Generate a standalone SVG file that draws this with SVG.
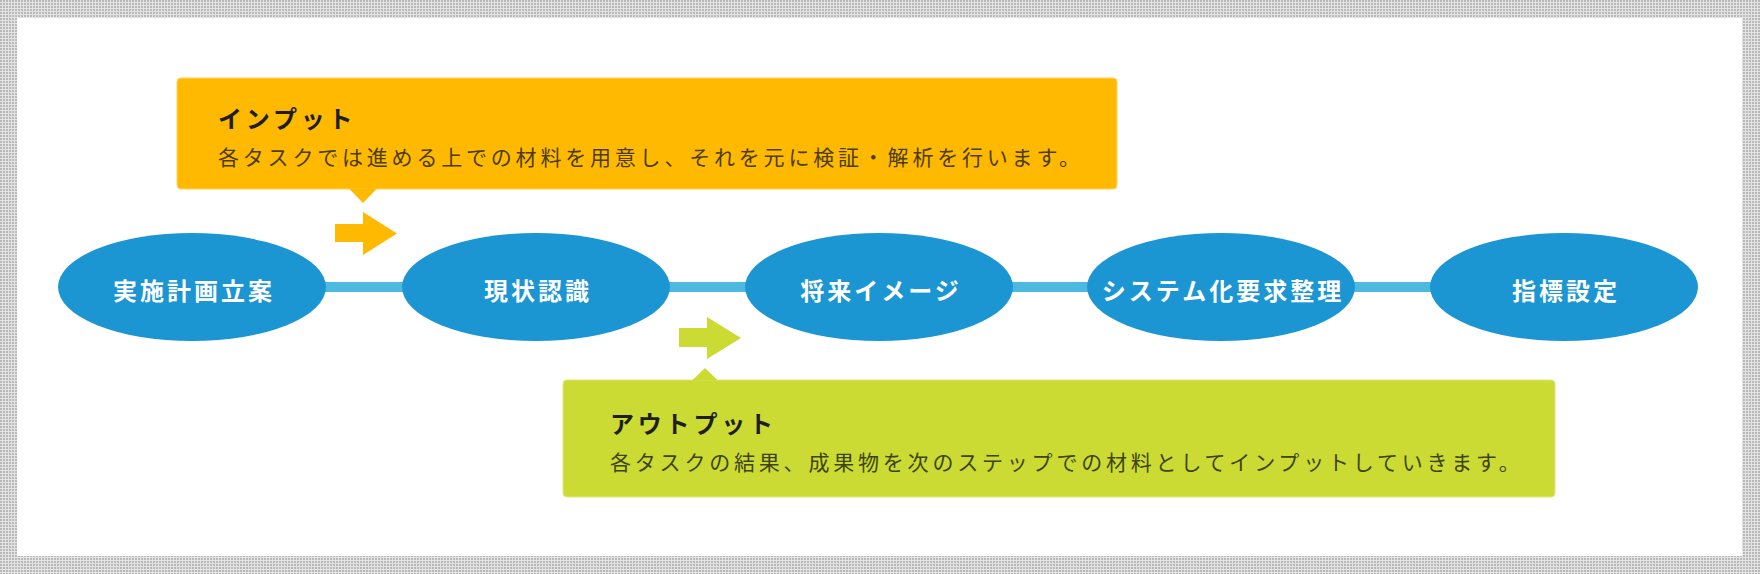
<svg xmlns="http://www.w3.org/2000/svg" width="1760" height="574" viewBox="0 0 1760 574">
<defs>
<pattern id="dots" width="3" height="3" patternUnits="userSpaceOnUse">
<rect width="3" height="3" fill="#e4e4e4"/>
<rect width="2" height="2" fill="#b9b9b9"/>
</pattern>
<style>
.node ellipse{fill:#1b96d3}
.node text{font-family:"Noto Sans CJK JP","Noto Sans",sans-serif;font-size:24px;font-weight:bold;fill:#ffffff;letter-spacing:3px;text-anchor:middle}
.bar{fill:#4db8e0}
.title{font-family:"Noto Sans CJK JP","Noto Sans",sans-serif;font-size:24px;font-weight:bold;fill:#1e1e1e;letter-spacing:3.8px}
.desc{font-family:"Noto Sans CJK JP","Noto Sans",sans-serif;font-size:21px;letter-spacing:3.8px}
</style>
</defs>
<rect x="0" y="0" width="1760" height="574" fill="url(#dots)"/>
<rect x="17" y="18" width="1725" height="538" fill="#ffffff"/>

<g id="connectors">
<rect class="bar" x="320" y="282" width="90" height="10"/>
<rect class="bar" x="663" y="282" width="90" height="10"/>
<rect class="bar" x="1006" y="282" width="90" height="10"/>
<rect class="bar" x="1349" y="282" width="90" height="10"/>
</g>

<g id="node1" class="node"><ellipse cx="192" cy="287" rx="134" ry="54"/><text x="194" y="300">実施計画立案</text></g>
<g id="node2" class="node"><ellipse cx="536" cy="287" rx="134" ry="54"/><text x="538" y="300">現状認識</text></g>
<g id="node3" class="node"><ellipse cx="879" cy="287" rx="134" ry="54"/><text x="881" y="300">将来イメージ</text></g>
<g id="node4" class="node"><ellipse cx="1221" cy="287" rx="134" ry="54"/><text x="1223" y="300">システム化要求整理</text></g>
<g id="node5" class="node"><ellipse cx="1564" cy="287" rx="134" ry="54"/><text x="1566" y="300">指標設定</text></g>

<g id="input">
<rect x="177" y="78" width="940" height="111" rx="4" fill="#ffb900" stroke="#ffd35c" stroke-width="1"/>
<polygon points="349,188.5 377,188.5 363,203" fill="#ffb900"/>
<polygon points="335,224 363,224 363,212 397,233.5 363,255 363,242 335,242" fill="#ffb900"/>
<text class="title" x="218" y="128">インプット</text>
<text class="desc" x="218" y="165" fill="#4d3c0c">各タスクでは進める上での材料を用意し、それを元に検証・解析を行います。</text>
</g>

<g id="output">
<rect x="563" y="380" width="992" height="117" rx="4" fill="#cbdb34" stroke="#dde879" stroke-width="1"/>
<polygon points="692,380.5 718,380.5 705,368" fill="#cbdb34"/>
<polygon points="679,328 707,328 707,317 741,338 707,359 707,347 679,347" fill="#cbdb34"/>
<text class="title" x="610" y="433">アウトプット</text>
<text class="desc" x="610" y="470" fill="#3e4410">各タスクの結果、成果物を次のステップでの材料としてインプットしていきます。</text>
</g>
</svg>
